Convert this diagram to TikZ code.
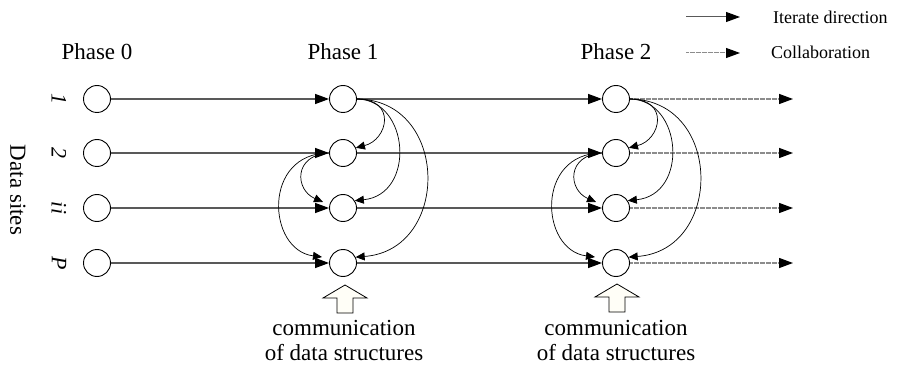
\documentclass[tikz,border=0pt]{standalone}
\usepackage{fontspec}
\setmainfont{Liberation Serif}
\usetikzlibrary{arrows.meta,calc}

\tikzset{
  site/.style={circle, draw=black, line width=0.9pt, fill=white, minimum size=27pt, inner sep=0pt},
  bigtxt/.style={font=\fontsize{23}{26}\selectfont, inner sep=0pt},
  legtxt/.style={font=\fontsize{18}{20}\selectfont, inner sep=0pt, anchor=west},
  rowlbl/.style={font=\fontsize{22}{24}\selectfont\itshape, inner sep=0pt, rotate=-90},
  iterate/.style={draw=black!65, line width=1.3pt, -{Triangle[length=14pt,width=10pt,fill=black,color=black]}},
  dotline/.style={draw=black!45, line width=1.3pt, dash pattern=on 0.8pt off 0.4pt,
    -{Triangle[length=14pt,width=10pt,fill=black,color=black]}},
  collab/.style={draw=black, line width=0.7pt, -{Triangle[length=9pt,width=8pt,fill=black]}},
  blockarrow/.style={draw=black, line width=0.8pt, fill=black!4!yellow!3!white, line join=miter}
}

\begin{document}
\begin{tikzpicture}[x=1pt,y=-1pt]
  \useasboundingbox (0,0) rectangle (899,366);

  % phase headings
  \node[bigtxt] (h0) at (97,52)  {Phase 0};
  \node[bigtxt] (h1) at (343,52) {Phase 1};
  \node[bigtxt] (h2) at (616,52) {Phase 2};

  % axis title and row labels
  \node[bigtxt, rotate=-90] (ds) at (18,190) {Data sites};
  \node[rowlbl] (l1) at (59,99)  {1};
  \node[rowlbl] (l2) at (59,153) {2};
  \node[rowlbl] (l3) at (59,208) {ii};
  \node[rowlbl] (l4) at (59,263) {P};

  % data sites at each phase
  \foreach \r/\y in {1/99, 2/153, 3/208, 4/263} {
    \node[site] (a\r) at (97,\y)  {};
    \node[site] (b\r) at (343,\y) {};
    \node[site] (c\r) at (616,\y) {};
    \coordinate (e\r) at (793,\y);
  }

  % iteration arrows
  \foreach \r in {1,2,3,4} {
    \draw[iterate] (a\r.east) -- (b\r.west);
    \draw[iterate] (b\r.east) -- (c\r.west);
    \draw[dotline] (c\r.east) -- (e\r);
  }

  % collaboration inside each phase
  \foreach \p in {b,c} {
    \draw[collab] (\p1.east) .. controls +(40,0) and +(32,-8) .. (\p2.22);
    \draw[collab] (\p1.east) .. controls +(53,1) and +(61,-6) .. (\p3.32);
    \draw[collab] (\p1.east) .. controls +(93,1) and +(95,-7) .. (\p4.25);
    \draw[collab] (\p2.west) .. controls +(-36,2) and +(-28,-12) .. ($(\p3)+(-20,-6)$);
    \draw[collab] (\p2.west) .. controls +(-67,0) and +(-55,-7) .. ($(\p4)+(-21,-6)$);
  }

  % communication arrows
  \coordinate (t1) at (345,285);
  \coordinate (t2) at (617,284);
  \foreach \t in {t1,t2} {
    \draw[blockarrow] (\t) -- ++(22,13) -- ++(-14,0) -- ++(0,15) -- ++(-16,0)
      -- ++(0,-15) -- ++(-14,0) -- cycle;
  }
  \node[bigtxt, anchor=base] (m1) at (344,335) {communication};
  \node[bigtxt, anchor=base] (n1) at (344,360) {of data structures};
  \node[bigtxt, anchor=base] (m2) at (616,335) {communication};
  \node[bigtxt, anchor=base] (n2) at (616,360) {of data structures};

  % legend
  \coordinate (ka) at (686,17);
  \coordinate (kb) at (740,17);
  \coordinate (kc) at (686,53);
  \coordinate (kd) at (740,53);
  \draw[iterate, line width=1pt] (ka) -- (kb);
  \draw[dotline, line width=1pt] (kc) -- (kd);
  \node[legtxt] (k1) at (773,17) {Iterate direction};
  \node[legtxt] (k2) at (771,52) {Collaboration};
\end{tikzpicture}
\end{document}
